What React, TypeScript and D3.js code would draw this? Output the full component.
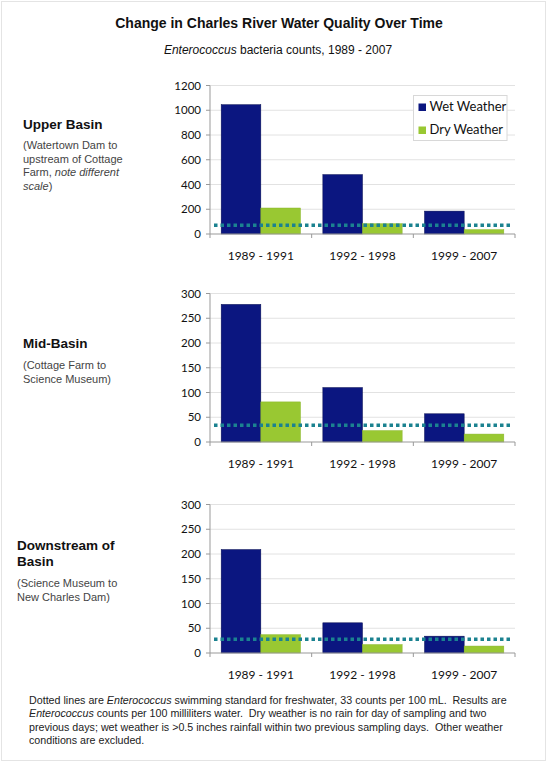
import React from "react";
import * as d3 from "d3";

const categories = ["1989 - 1991", "1992 - 1998", "1999 - 2007"];
const seriesNames = ["Wet Weather", "Dry Weather"];

const upperWet = [1045, 480, 185];
const upperDry = [210, 83, 35];
const midWet = [278, 110, 57];
const midDry = [81, 23, 16];
const downWet = [209, 61, 34];
const downDry = [37, 17, 14];

const standardLines = [70, 34, 28];
const yMaxes = [1200, 300, 300];
const yTickSteps = [200, 50, 50];

const panelTitles = [["Upper Basin"], ["Mid-Basin"], ["Downstream of", "Basin"]];

const W = 550;
const H = 762;
const WET = "#0b1680";
const DRY = "#99c832";
const LINE = "#1b8290";
const X0 = 210;
const X1 = 515;
const PH = 148.5;
const panelTops = [85.5, 293.5, 504.5];

const tickFont = "Lato, 'Open Sans', sans-serif";
const arial = "'Liberation Sans', Arial, sans-serif";

function Panel({ idx, wet, dry }: { idx: number; wet: number[]; dry: number[] }) {
  const top = panelTops[idx];
  const bottom = top + PH;
  const y = d3.scaleLinear().domain([0, yMaxes[idx]]).range([bottom, top]);
  const x = d3.scaleBand<string>().domain(categories).range([X0, X1]).padding(0);
  const bw = x.bandwidth();
  const inner = d3.scaleBand<string>().domain(seriesNames).range([bw * 0.11, bw * 0.89]).padding(0);
  const ticks = d3.range(0, yMaxes[idx] + 1, yTickSteps[idx]);
  const data = [wet, dry];
  const boundaries = [X0, ...categories.map((c) => (x(c) as number) + bw)];
  return (
    <g>
      {ticks.map((t) => (
        <g key={t}>
          {t > 0 && <line x1={X0} x2={X1} y1={y(t)} y2={y(t)} stroke="#e2e2e2" strokeWidth={1} />}
          <line x1={X0 - 4} x2={X0} y1={y(t)} y2={y(t)} stroke="#999" strokeWidth={1} />
          <text x={X0 - 9} y={y(t)} dy="0.35em" textAnchor="end" fontSize={11.5} fontFamily={tickFont} fill="#111">
            {t}
          </text>
        </g>
      ))}
      <line x1={X0} x2={X0} y1={top} y2={bottom} stroke="#999" strokeWidth={1} />
      {categories.map((c, i) =>
        seriesNames.map((s, j) => {
          const v = data[j][i];
          return (
            <rect
              key={c + s}
              x={(x(c) as number) + (inner(s) as number)}
              y={y(v)}
              width={inner.bandwidth()}
              height={bottom - y(v)}
              fill={j === 0 ? WET : DRY}
              stroke={j === 0 ? "#050c50" : "#8ab52a"}
              strokeWidth={0.5}
            />
          );
        })
      )}
      <line x1={X0} x2={X1} y1={bottom} y2={bottom} stroke="#999" strokeWidth={1} />
      {boundaries.map((bx, i) => (
        <line key={i} x1={bx} x2={bx} y1={bottom} y2={bottom + 4} stroke="#999" strokeWidth={1} />
      ))}
      <line
        x1={X0 + 4}
        x2={X1 - 3}
        y1={y(standardLines[idx])}
        y2={y(standardLines[idx])}
        stroke={LINE}
        strokeWidth={3.5}
        strokeDasharray="3.5 3"
      />
      {categories.map((c) => (
        <text
          key={c}
          x={(x(c) as number) + bw / 2}
          y={bottom + 22}
          dy="0.35em"
          textAnchor="middle"
          fontSize={12}
          fontFamily={tickFont}
          fill="#111"
        >
          {c}
        </text>
      ))}
    </g>
  );
}

export default function App() {
  return (
    <div style={{ position: "fixed", left: 0, top: 0 }}>
      <svg width={W} height={H} style={{ display: "block", background: "#fff" }}>
        <rect x={1.5} y={1.5} width={544} height={759} fill="#fff" stroke="#e4e4e4" strokeWidth={1} />
        <text x={279} y={27.5} textAnchor="middle" fontSize={14} fontWeight="bold" fontFamily={arial} fill="#111">
          Change in Charles River Water Quality Over Time
        </text>
        <text x={278} y={53.5} textAnchor="middle" fontSize={12} fontFamily={arial} fill="#111">
          <tspan fontStyle="italic">Enterococcus</tspan> bacteria counts, 1989 - 2007
        </text>

        <Panel idx={0} wet={upperWet} dry={upperDry} />
        <Panel idx={1} wet={midWet} dry={midDry} />
        <Panel idx={2} wet={downWet} dry={downDry} />

        {/* legend */}
        <rect x={413.5} y={95.5} width={93.5} height={45} fill="#fff" stroke="#d8d8d8" strokeWidth={1} />
        {seriesNames.map((s, i) => (
          <g key={s}>
            <rect x={418.5} y={103.5 + i * 23} width={7.5} height={7.5} fill={i === 0 ? WET : DRY} />
            <text x={429.5} y={111 + i * 23} fontSize={13} fontFamily={tickFont} fill="#111">
              {s}
            </text>
          </g>
        ))}

        {/* left labels */}
        <text x={23} y={128.5} fontSize={13.5} fontWeight="bold" fontFamily={arial} fill="#111">
          {panelTitles[0][0]}
        </text>
        <g fontSize={11} fontFamily={arial} fill="#444">
          <text x={23} y={149}>(Watertown Dam to</text>
          <text x={23} y={162.7}>upstream of Cottage</text>
          <text x={23} y={176.4}>
            Farm, <tspan fontStyle="italic">note different</tspan>
          </text>
          <text x={23} y={190.1}>
            <tspan fontStyle="italic">scale</tspan>)
          </text>
        </g>

        <text x={23} y={347.5} fontSize={13.5} fontWeight="bold" fontFamily={arial} fill="#111">
          {panelTitles[1][0]}
        </text>
        <g fontSize={11} fontFamily={arial} fill="#444">
          <text x={23} y={369}>(Cottage Farm to</text>
          <text x={23} y={382.7}>Science Museum)</text>
        </g>

        <text x={17} y={550} fontSize={13.5} fontWeight="bold" fontFamily={arial} fill="#111">
          {panelTitles[2][0]}
        </text>
        <text x={17} y={566} fontSize={13.5} fontWeight="bold" fontFamily={arial} fill="#111">
          {panelTitles[2][1]}
        </text>
        <g fontSize={11} fontFamily={arial} fill="#444">
          <text x={17} y={587.3}>(Science Museum to</text>
          <text x={17} y={601}>New Charles Dam)</text>
        </g>

        {/* footnote */}
        <g fontSize={10.7} fontFamily={arial} fill="#222">
          <text x={29} y={704} xmlSpace="preserve">
            Dotted lines are <tspan fontStyle="italic">Enterococcus</tspan> swimming standard for freshwater, 33 counts per 100 mL.  Results are
          </text>
          <text x={29} y={717.4} xmlSpace="preserve">
            <tspan fontStyle="italic">Enterococcus</tspan> counts per 100 milliliters water.  Dry weather is no rain for day of sampling and two
          </text>
          <text x={29} y={730.8} xmlSpace="preserve">
            previous days; wet weather is &gt;0.5 inches rainfall within two previous sampling days.  Other weather
          </text>
          <text x={29} y={744.2}>conditions are excluded.</text>
        </g>
      </svg>
    </div>
  );
}
